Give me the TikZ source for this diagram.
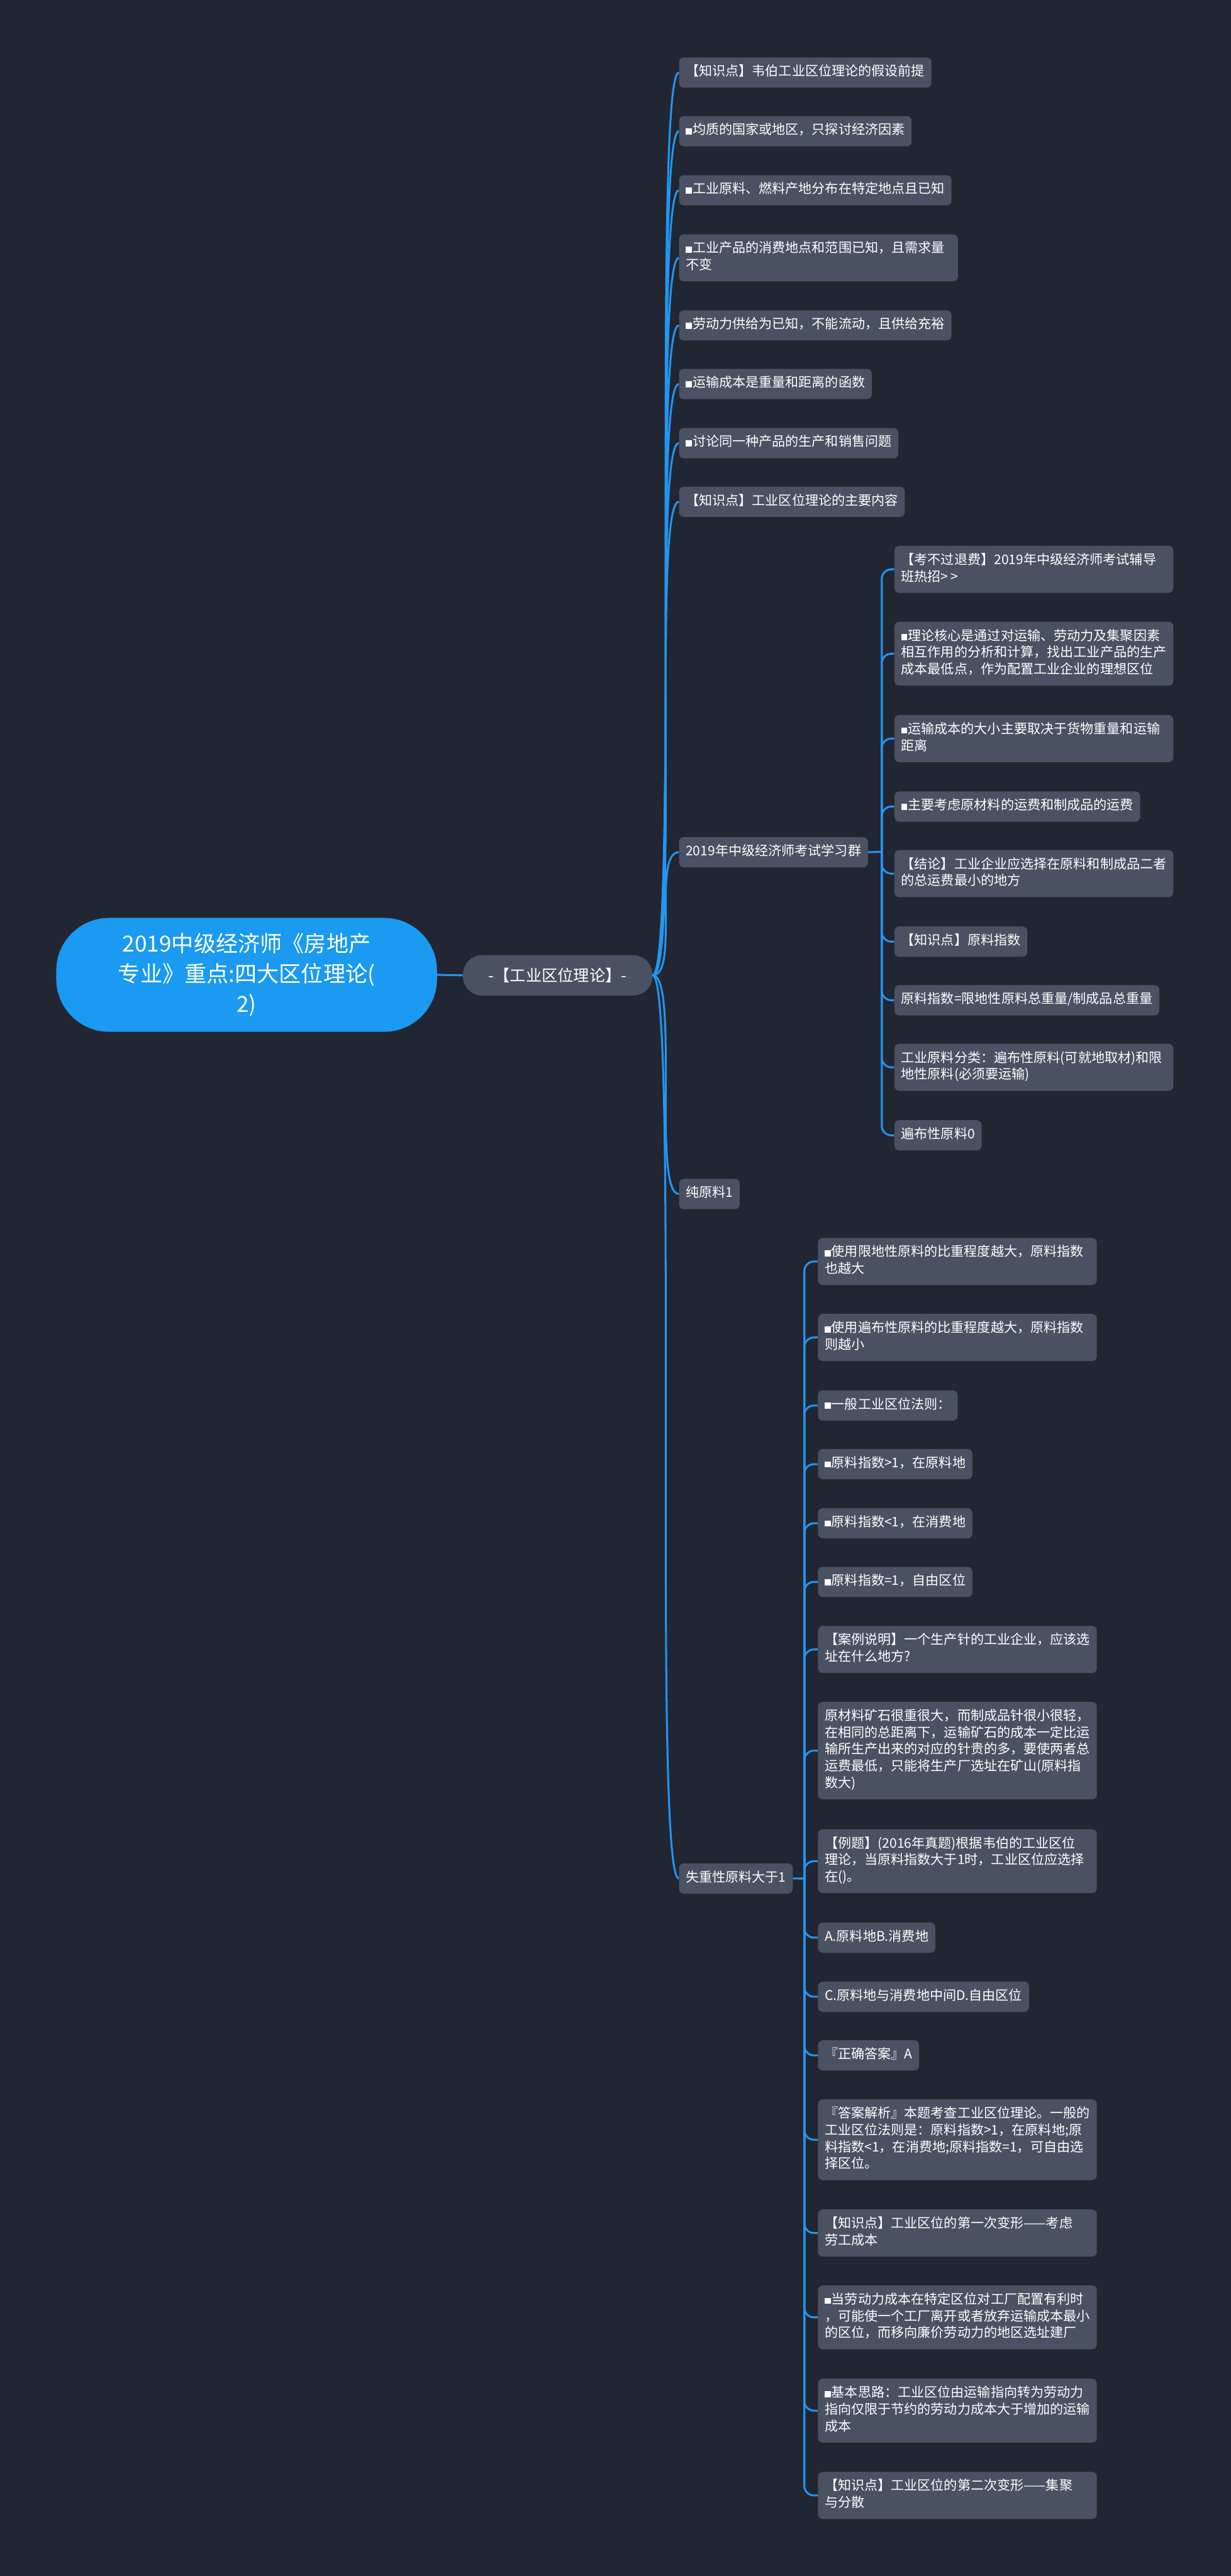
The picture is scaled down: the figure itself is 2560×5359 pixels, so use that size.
\documentclass[tikz,border=0pt]{standalone}
\usepackage{fontspec}
\setmainfont{Noto Sans CJK SC}
\definecolor{bgc}{HTML}{222632}
\definecolor{nodec}{HTML}{4A5163}
\definecolor{linec}{HTML}{2196F3}
\definecolor{rootc}{HTML}{1A9AF0}
\newcommand\sq{\rule{0.46em}{0.46em}\hspace{0.05em}}
\newcommand\nl{\\\strut}
\tikzset{
  leaf/.style={fill=nodec, rounded corners=5pt, text=white,
    font=\fontsize{13.8}{17.5}\selectfont, align=left,
    inner xsep=7pt, inner ysep=7pt, anchor=north west,
    execute at begin node={\noindent\strut}},
  leafw/.style={leaf, text width=276pt},
  rootbox/.style={fill=rootc, rounded corners=55pt, text=white,
    minimum width=396pt, minimum height=118.5pt, align=center,
    font=\fontsize{23}{31.5}\selectfont},
  midbox/.style={fill=nodec, rounded corners=20pt, text=white,
    minimum width=197pt, minimum height=42pt,
    font=\fontsize{16.5}{20}\selectfont},
  conn/.style={draw=linec, line width=2pt},
  elbow/.style={conn, rounded corners=10pt}
}
\begin{document}
\begin{tikzpicture}[x=0.5pt,y=-0.5pt]
\fill[bgc] (0,0) rectangle (2560,5359);
\useasboundingbox (0,0) rectangle (2560,5359);

% root and main branch
\node[rootbox] (root) at (513,2028) {2019中级经济师《房地产\\专业》重点:四大区位理论(\\2)};
\node[midbox] (mid) at (1160,2029) {-【工业区位理论】-};

% level 1
\node[leaf] (n1) at (1412,119) {【知识点】韦伯工业区位理论的假设前提};
\node[leaf] (n2) at (1412,241) {\sq 均质的国家或地区，只探讨经济因素};
\node[leaf] (n3) at (1412,364) {\sq 工业原料、燃料产地分布在特定地点且已知};
\node[leafw] (n4) at (1412,487) {\sq 工业产品的消费地点和范围已知，且需求量\nl 不变};
\node[leaf] (n5) at (1412,645) {\sq 劳动力供给为已知，不能流动，且供给充裕};
\node[leaf] (n6) at (1412,767) {\sq 运输成本是重量和距离的函数};
\node[leaf] (n7) at (1412,890) {\sq 讨论同一种产品的生产和销售问题};
\node[leaf] (n8) at (1412,1012) {【知识点】工业区位理论的主要内容};
\node[leaf] (n9) at (1412,1741) {2019年中级经济师考试学习群};
\node[leaf] (n10) at (1412,2452) {纯原料1};
\node[leaf] (n11) at (1412,3876) {失重性原料大于1};

% group under n9
\node[leafw] (g1) at (1860,1135) {【考不过退费】2019年中级经济师考试辅导\nl 班热招>\hspace{0.18em}>};
\node[leafw] (g2) at (1860,1293) {\sq 理论核心是通过对运输、劳动力及集聚因素\nl 相互作用的分析和计算，找出工业产品的生产\nl 成本最低点，作为配置工业企业的理想区位};
\node[leafw] (g3) at (1860,1487) {\sq 运输成本的大小主要取决于货物重量和运输\nl 距离};
\node[leaf] (g4) at (1860,1646) {\sq 主要考虑原材料的运费和制成品的运费};
\node[leafw] (g5) at (1860,1768) {【结论】工业企业应选择在原料和制成品二者\nl 的总运费最小的地方};
\node[leaf] (g6) at (1860,1927) {【知识点】原料指数};
\node[leaf] (g7) at (1860,2049) {原料指数=限地性原料总重量/制成品总重量};
\node[leafw] (g8) at (1860,2171) {工业原料分类：遍布性原料(可就地取材)和限\nl 地性原料(必须要运输)};
\node[leaf] (g9) at (1860,2330) {遍布性原料0};

% group under n11
\node[leafw] (h1) at (1701,2575) {\sq 使用限地性原料的比重程度越大，原料指数\nl 也越大};
\node[leafw] (h2) at (1701,2733) {\sq 使用遍布性原料的比重程度越大，原料指数\nl 则越小};
\node[leaf] (h3) at (1701,2892) {\sq 一般工业区位法则：};
\node[leaf] (h4) at (1701,3014) {\sq 原料指数>1，在原料地};
\node[leaf] (h5) at (1701,3137) {\sq 原料指数<1，在消费地};
\node[leaf] (h6) at (1701,3259) {\sq 原料指数=1，自由区位};
\node[leafw] (h7) at (1701,3382) {【案例说明】一个生产针的工业企业，应该选\nl 址在什么地方?};
\node[leafw] (h8) at (1701,3540) {原材料矿石很重很大，而制成品针很小很轻，\nl 在相同的总距离下，运输矿石的成本一定比运\nl 输所生产出来的对应的针贵的多，要使两者总\nl 运费最低，只能将生产厂选址在矿山(原料指\nl 数大)};
\node[leafw] (h9) at (1701,3805) {【例题】(2016年真题)根据韦伯的工业区位\nl 理论，当原料指数大于1时，工业区位应选择\nl 在()。};
\node[leaf] (h10) at (1701,3999) {A.原料地B.消费地};
\node[leaf] (h11) at (1701,4122) {C.原料地与消费地中间D.自由区位};
\node[leaf] (h12) at (1701,4244) {『正确答案』A};
\node[leafw] (h13) at (1701,4367) {『答案解析』本题考查工业区位理论。一般的\nl 工业区位法则是：原料指数>1，在原料地;原\nl 料指数<1，在消费地;原料指数=1，可自由选\nl 择区位。};
\node[leafw] (h14) at (1701,4596) {【知识点】工业区位的第一次变形——考虑\nl 劳工成本};
\node[leafw] (h15) at (1701,4754) {\sq 当劳动力成本在特定区位对工厂配置有利时\nl ，可能使一个工厂离开或者放弃运输成本最小\nl 的区位，而移向廉价劳动力的地区选址建厂};
\node[leafw] (h16) at (1701,4948) {\sq 基本思路：工业区位由运输指向转为劳动力\nl 指向仅限于节约的劳动力成本大于增加的运输\nl 成本};
\node[leafw] (h17) at (1701,5142) {【知识点】工业区位的第二次变形——集聚\nl 与分散};

% connectors
\draw[conn] (root.east) -- (mid.west);
\foreach \c in {n1,n2,n3,n4,n5,n6,n7,n8,n9,n10,n11}
  \draw[conn] (mid.east) .. controls +(56,0) and +(-56,0) .. (\c.west);

\coordinate (gj) at (1834,1772);
\draw[conn] (n9.east) -- (gj);
\foreach \c in {g1,g2,g3,g4,g5,g6,g7,g8,g9}
  \draw[elbow] (gj) |- (\c.west);

\coordinate (hj) at (1673,3908);
\draw[conn] (n11.east) -- (hj);
\foreach \c in {h1,h2,h3,h4,h5,h6,h7,h8,h9,h10,h11,h12,h13,h14,h15,h16,h17}
  \draw[elbow] (hj) |- (\c.west);
\end{tikzpicture}
\end{document}
